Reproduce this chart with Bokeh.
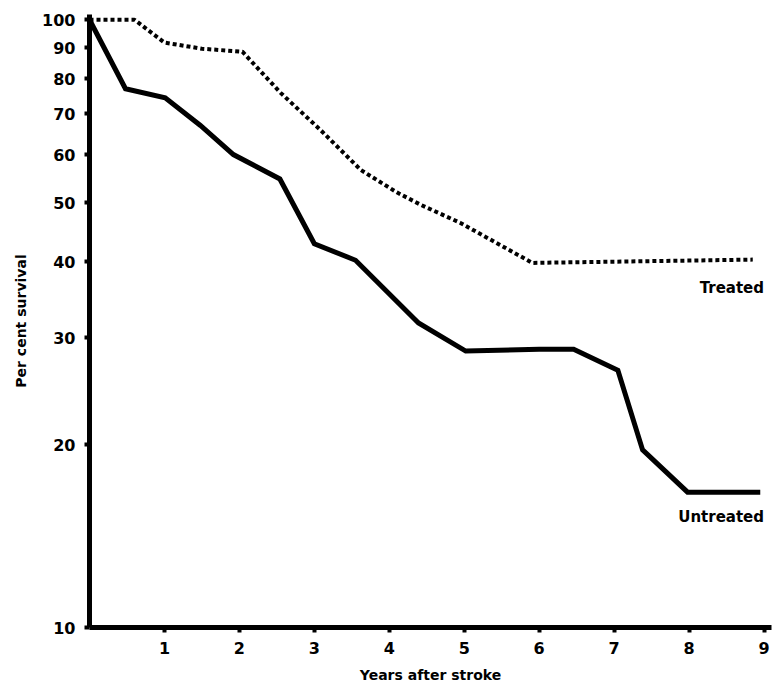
from bokeh.plotting import figure
from bokeh.models import FixedTicker, PrintfTickFormatter, Label, Range1d
from bokeh.embed import file_html
from bokeh.resources import INLINE

# Data
untreated_years = [0, 0.48, 1.01, 1.48, 1.92, 2.54, 3.0, 3.55, 4.39, 5.02, 6.0, 6.46, 7.05, 7.38, 7.98, 8.95]
untreated_pct = [100, 77, 74.4, 67, 60, 54.7, 42.8, 40.2, 31.7, 28.5, 28.7, 28.7, 26.5, 19.6, 16.7, 16.7]

treated_years = [0, 0.6, 1.0, 1.5, 2.04, 2.55, 3.08, 3.62, 4.1, 4.42, 4.95, 5.91, 8.85]
treated_pct = [100, 100, 91.7, 89.6, 88.6, 75.8, 65.9, 56.6, 52.0, 49.6, 46.3, 39.8, 40.3]

x_ticks = [1, 2, 3, 4, 5, 6, 7, 8, 9]
y_ticks = [10, 20, 30, 40, 50, 60, 70, 80, 90, 100]

FONT = "DejaVu Sans"

p = figure(width=774, height=696, y_axis_type="log",
           x_range=Range1d(0, 9.1), y_range=Range1d(10, 102),
           output_backend="svg", toolbar_location=None,
           min_border_left=89, min_border_right=3, min_border_top=14, min_border_bottom=69)

p.grid.visible = False
p.outline_line_color = None
p.background_fill_color = "white"
p.border_fill_color = "white"

p.line(untreated_years, untreated_pct, line_color="black", line_width=5, line_join="miter")
p.line(treated_years, treated_pct, line_color="black", line_width=4, line_dash="4 3")

for ax in (p.xaxis[0], p.yaxis[0]):
    ax.axis_line_width = 5
    ax.axis_line_color = "black"
    ax.major_tick_line_width = 4
    ax.major_tick_line_color = "black"
    ax.major_tick_in = 0
    ax.major_tick_out = 5
    ax.minor_tick_line_color = None
    ax.major_label_text_font = FONT
    ax.major_label_text_font_style = "bold"
    ax.major_label_text_font_size = "16px"
    ax.major_label_text_color = "black"
    ax.axis_label_text_font = FONT
    ax.axis_label_text_font_style = "bold"
    ax.axis_label_text_font_size = "14px"
    ax.axis_label_text_color = "black"
    ax.major_label_standoff = 9
    ax.axis_label_standoff = 10

p.xaxis.ticker = FixedTicker(ticks=x_ticks)
p.yaxis.ticker = FixedTicker(ticks=y_ticks)
p.yaxis.formatter = PrintfTickFormatter(format="%d")
p.xaxis.axis_label = "Years after stroke"
p.yaxis.axis_label = "Per cent survival"

p.add_layout(Label(x=9.0, y=35, text="Treated", text_align="right",
                   text_font=FONT, text_font_style="bold", text_font_size="15px",
                   text_color="black"))
p.add_layout(Label(x=9.0, y=14.7, text="Untreated", text_align="right",
                   text_font=FONT, text_font_style="bold", text_font_size="15px",
                   text_color="black"))

open("out.html", "w").write(file_html(p, INLINE))
